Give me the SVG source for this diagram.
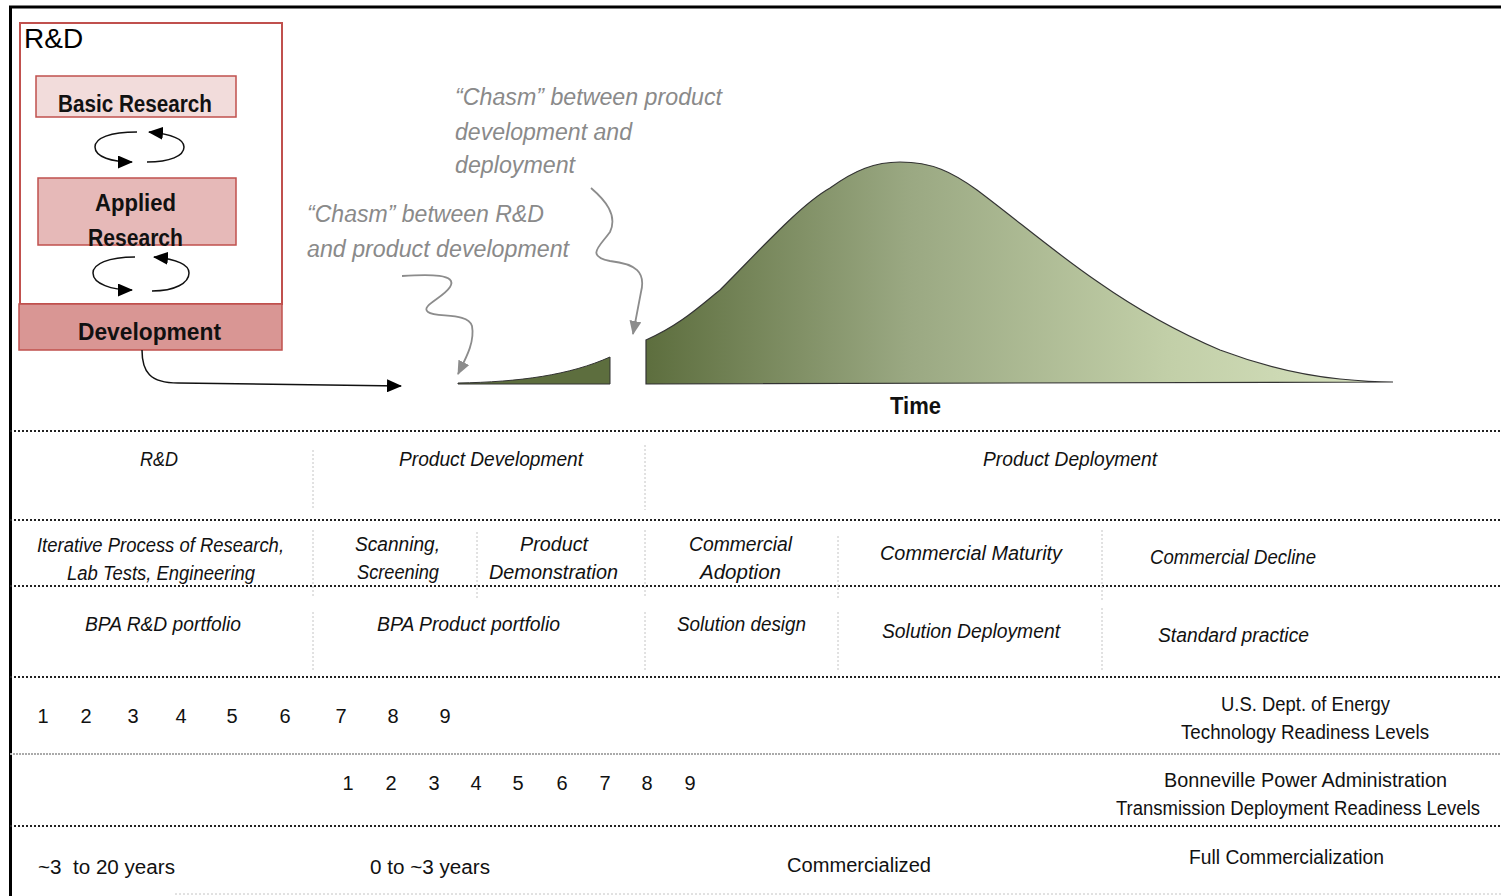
<svg xmlns="http://www.w3.org/2000/svg" width="1501" height="896" viewBox="0 0 1501 896">
<defs>
<marker id="ah" markerUnits="userSpaceOnUse" markerWidth="15" markerHeight="13" refX="14" refY="6.5" orient="auto"><path d="M0,0 L15,6.5 L0,13 Z" fill="#000"/></marker>
<marker id="ag" markerUnits="userSpaceOnUse" markerWidth="14" markerHeight="12" refX="13" refY="6" orient="auto"><path d="M0,0 L14,6 L0,12 Z" fill="#8c8c8c"/></marker>
<linearGradient id="bell" x1="646" y1="0" x2="1393" y2="0" gradientUnits="userSpaceOnUse">
<stop offset="0" stop-color="#5d6e3e"/>
<stop offset="0.35" stop-color="#9aa882"/>
<stop offset="0.7" stop-color="#c2cfa8"/>
<stop offset="1" stop-color="#d8e3c0"/>
</linearGradient>
<style>
.hb{font-family:"Liberation Sans",Arial,sans-serif;font-weight:bold;font-size:23px;fill:#111}
.ch{font-family:"Liberation Sans",Arial,sans-serif;font-style:italic;font-size:23px;fill:#8a8a8a}
.ti{font-family:"Liberation Sans",Arial,sans-serif;font-style:italic;font-size:20px;fill:#111}
.tn{font-family:"Liberation Sans",Arial,sans-serif;font-size:20px;fill:#111}
.hl{stroke:#222;stroke-width:2;stroke-dasharray:2 2;fill:none}
.hg{stroke:#aaa;stroke-width:2;stroke-dasharray:2 1;fill:none}
.vl{stroke:#c4c4c4;stroke-width:1;stroke-dasharray:2 2;fill:none}
.cyc{stroke:#111;stroke-width:1.5;fill:none}
.sq{stroke:#8c8c8c;stroke-width:1.8;fill:none}
</style>
</defs>
<rect width="1501" height="896" fill="#fff"/>
<g id="frame">
<line x1="9" y1="7" x2="1501" y2="7" stroke="#000" stroke-width="3"/>
<line x1="10.5" y1="6" x2="10.5" y2="896" stroke="#000" stroke-width="3"/>
</g>
<g id="rd-box">
<rect x="20" y="23" width="262" height="281" fill="#fff" stroke="#c0504d" stroke-width="2"/>
<text x="24" y="48" font-family="Liberation Sans,Arial,sans-serif" font-size="28" fill="#000">R&amp;D</text>
</g>
<g id="basic-research">
<rect x="36" y="76" width="200" height="41" fill="#f2dcdb" stroke="#c0504d" stroke-width="1.5"/>
<text class="hb" x="58" y="112" textLength="154" lengthAdjust="spacingAndGlyphs">Basic Research</text>
</g>
<g id="applied-research">
<rect x="38" y="178" width="198" height="67" fill="#e6b9b8" stroke="#c0504d" stroke-width="1.5"/>
<text class="hb" x="95" y="211" textLength="81" lengthAdjust="spacingAndGlyphs">Applied</text>
<text class="hb" x="88" y="246" textLength="95" lengthAdjust="spacingAndGlyphs">Research</text>
</g>
<g id="development">
<rect x="19" y="304" width="263" height="46" fill="#d99694" stroke="#c0504d" stroke-width="1.5"/>
<text class="hb" x="78" y="340" textLength="143" lengthAdjust="spacingAndGlyphs">Development</text>
</g>
<g id="curve">
<path d="M458,383 C520,382 570,375 610,357 L610,384 L458,384 Z" fill="#5d6e3e" stroke="#333" stroke-width="1"/>
<path d="M646,340 C680,325 700,306 720,290 C760,250 800,205 830,188 C855,170 875,162 900,162 C932,162 952,172 977,190 C1017,220 1058,255 1098,282 C1138,310 1180,333 1220,350 C1260,365 1300,375 1340,379 C1360,381 1380,382 1393,382 L646,384 Z" fill="url(#bell)" stroke="#333" stroke-width="1.2"/>
<text class="hb" x="890" y="414" font-size="21" textLength="51" lengthAdjust="spacingAndGlyphs">Time</text>
</g>
<g id="chasm-notes">
<text class="ch" x="455" y="105" textLength="267" lengthAdjust="spacingAndGlyphs">“Chasm” between product</text>
<text class="ch" x="455" y="140" textLength="177" lengthAdjust="spacingAndGlyphs">development and</text>
<text class="ch" x="455" y="173" textLength="120" lengthAdjust="spacingAndGlyphs">deployment</text>
<text class="ch" x="307" y="222" textLength="237" lengthAdjust="spacingAndGlyphs">“Chasm” between R&amp;D</text>
<text class="ch" x="307" y="257" textLength="262" lengthAdjust="spacingAndGlyphs">and product development</text>
</g>
<g id="connectors">
<path class="cyc" d="M137,132 C110,132 95,138 95,147 C95,157 112,162 132,162" marker-end="url(#ah)"/>
<path class="cyc" d="M147,162 C170,162 184,156 184,147 C184,139 170,134 149,132" marker-end="url(#ah)"/>
<path class="cyc" d="M135,257 C108,257 93,264 93,273 C93,284 112,290 132,290" marker-end="url(#ah)"/>
<path class="cyc" d="M152,291 C175,291 189,283 189,273 C189,264 175,259 154,257" marker-end="url(#ah)"/>
<path class="cyc" d="M142,350 C142,372 150,383 178,383 L401,386" marker-end="url(#ah)"/>
<path class="sq" d="M402,276 C430,274 458,274 450,287 C443,298 420,306 428,312 C436,318 468,312 472,326 C475,342 466,358 458,374" marker-end="url(#ag)"/>
<path class="sq" d="M591,188 C605,200 618,215 610,232 C600,246 585,256 610,261 C636,264 646,272 641,292 L633,334" marker-end="url(#ag)"/>
</g>
<g id="grid">
<line class="hl" x1="10" y1="431" x2="1501" y2="431"/>
<line class="hl" x1="10" y1="520" x2="1501" y2="520"/>
<line class="hl" x1="10" y1="586" x2="1501" y2="586"/>
<line class="hl" x1="10" y1="677" x2="1501" y2="677"/>
<line class="hg" x1="10" y1="754" x2="1501" y2="754"/>
<line class="hl" x1="10" y1="826" x2="1501" y2="826"/>
<line class="vl" x1="175" y1="894" x2="1501" y2="894"/>
<line class="vl" x1="313" y1="450" x2="313" y2="510"/>
<line class="vl" x1="313" y1="530" x2="313" y2="598"/>
<line class="vl" x1="313" y1="612" x2="313" y2="672"/>
<line class="vl" x1="645" y1="445" x2="645" y2="510"/>
<line class="vl" x1="645" y1="530" x2="645" y2="598"/>
<line class="vl" x1="645" y1="612" x2="645" y2="672"/>
<line class="vl" x1="477" y1="532" x2="477" y2="598"/>
<line class="vl" x1="838" y1="536" x2="838" y2="600"/>
<line class="vl" x1="838" y1="612" x2="838" y2="672"/>
<line class="vl" x1="1102" y1="530" x2="1102" y2="600"/>
<line class="vl" x1="1102" y1="608" x2="1102" y2="672"/>
</g>
<g id="row-stages">
<text class="ti" x="140" y="466" textLength="38" lengthAdjust="spacingAndGlyphs">R&amp;D</text>
<text class="ti" x="399" y="466" textLength="184" lengthAdjust="spacingAndGlyphs">Product Development</text>
<text class="ti" x="983" y="466" textLength="174" lengthAdjust="spacingAndGlyphs">Product Deployment</text>
</g>
<g id="row-process">
<text class="ti" x="37" y="552" textLength="247" lengthAdjust="spacingAndGlyphs">Iterative Process of Research,</text>
<text class="ti" x="67" y="580" textLength="188" lengthAdjust="spacingAndGlyphs">Lab Tests, Engineering</text>
<text class="ti" x="355" y="551" textLength="85" lengthAdjust="spacingAndGlyphs">Scanning,</text>
<text class="ti" x="357" y="579" textLength="82" lengthAdjust="spacingAndGlyphs">Screening</text>
<text class="ti" x="520" y="551" textLength="68" lengthAdjust="spacingAndGlyphs">Product</text>
<text class="ti" x="489" y="579" textLength="129" lengthAdjust="spacingAndGlyphs">Demonstration</text>
<text class="ti" x="689" y="551" textLength="103" lengthAdjust="spacingAndGlyphs">Commercial</text>
<text class="ti" x="700" y="579" textLength="81" lengthAdjust="spacingAndGlyphs">Adoption</text>
<text class="ti" x="880" y="560" textLength="182" lengthAdjust="spacingAndGlyphs">Commercial Maturity</text>
<text class="ti" x="1150" y="564" textLength="166" lengthAdjust="spacingAndGlyphs">Commercial Decline</text>
</g>
<g id="row-portfolio">
<text class="ti" x="85" y="631" textLength="156" lengthAdjust="spacingAndGlyphs">BPA R&amp;D portfolio</text>
<text class="ti" x="377" y="631" textLength="183" lengthAdjust="spacingAndGlyphs">BPA Product portfolio</text>
<text class="ti" x="677" y="631" textLength="129" lengthAdjust="spacingAndGlyphs">Solution design</text>
<text class="ti" x="882" y="638" textLength="178" lengthAdjust="spacingAndGlyphs">Solution Deployment</text>
<text class="ti" x="1158" y="642" textLength="151" lengthAdjust="spacingAndGlyphs">Standard practice</text>
</g>
<g id="row-trl">
<g class="tn" text-anchor="middle">
<text x="43" y="723">1</text><text x="86" y="723">2</text><text x="133" y="723">3</text><text x="181" y="723">4</text><text x="232" y="723">5</text><text x="285" y="723">6</text><text x="341" y="723">7</text><text x="393" y="723">8</text><text x="445" y="723">9</text>
</g>
<text class="tn" x="1221" y="711" textLength="169" lengthAdjust="spacingAndGlyphs">U.S. Dept. of Energy</text>
<text class="tn" x="1181" y="739" textLength="248" lengthAdjust="spacingAndGlyphs">Technology Readiness Levels</text>
</g>
<g id="row-bpa">
<g class="tn" text-anchor="middle">
<text x="348" y="790">1</text><text x="391" y="790">2</text><text x="434" y="790">3</text><text x="476" y="790">4</text><text x="518" y="790">5</text><text x="562" y="790">6</text><text x="605" y="790">7</text><text x="647" y="790">8</text><text x="690" y="790">9</text>
</g>
<text class="tn" x="1164" y="787" textLength="283" lengthAdjust="spacingAndGlyphs">Bonneville Power Administration</text>
<text class="tn" x="1116" y="815" font-size="18" textLength="364" lengthAdjust="spacingAndGlyphs">Transmission Deployment Readiness Levels</text>
</g>
<g id="row-time">
<text class="tn" x="38" y="874" textLength="137" lengthAdjust="spacingAndGlyphs" xml:space="preserve">~3  to 20 years</text>
<text class="tn" x="370" y="874" textLength="120" lengthAdjust="spacingAndGlyphs">0 to ~3 years</text>
<text class="tn" x="787" y="872" textLength="144" lengthAdjust="spacingAndGlyphs">Commercialized</text>
<text class="tn" x="1189" y="864" textLength="195" lengthAdjust="spacingAndGlyphs">Full Commercialization</text>
</g>
</svg>
